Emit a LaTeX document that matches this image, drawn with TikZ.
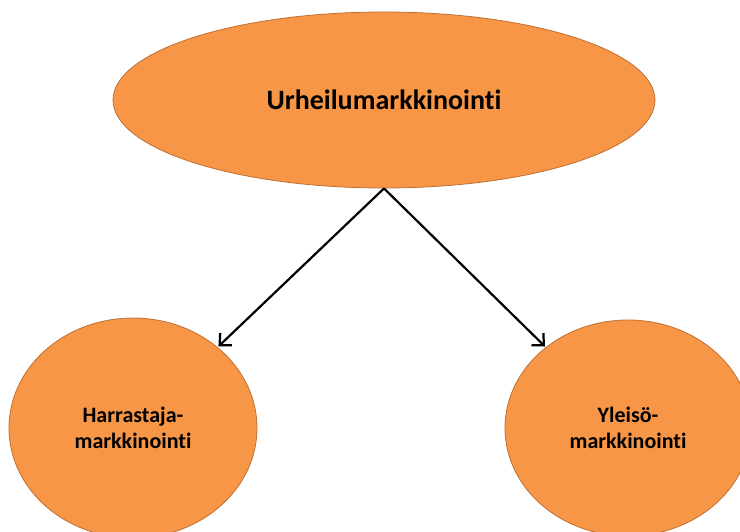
\documentclass[tikz,border=0pt]{standalone}
\usepackage{fontspec}
\setmainfont[Ligatures={NoCommon}]{Carlito}
\usetikzlibrary{shapes.geometric,arrows.meta}
\definecolor{orangefill}{HTML}{F79646}
\definecolor{orangeline}{RGB}{192,112,52}
\tikzset{
  bubble/.style={ellipse, fill=orangefill, draw=orangeline, line width=0.8pt, inner sep=0pt, align=center, text=black},
  arr/.style={-{Straight Barb[length=9pt,width=17pt]}, line width=2.2pt, black, shorten >=1pt}
}
\begin{document}
\begin{tikzpicture}[x=1pt,y=-1pt]
\useasboundingbox (0,0) rectangle (740,531);
\begin{scope}
\clip (0,0) rectangle (740,531);
\node[bubble, minimum width=542pt, minimum height=176pt, font=\fontsize{28}{32}\selectfont\bfseries] (top) at (384,100) {Urheilumarkkinointi};
\node[bubble, minimum width=248pt, minimum height=220pt, font=\fontsize{22}{26.7}\selectfont\bfseries] (left) at (133,428) {Harrastaja-\\markkinointi};
\node[bubble, minimum width=246pt, minimum height=216pt, font=\fontsize{22}{26.7}\selectfont\bfseries] (right) at (628,428) {Yleisö-\\markkinointi};
\end{scope}
\draw[arr] (top.south) -- (left);
\draw[arr] (top.south) -- (right);
\end{tikzpicture}
\end{document}
